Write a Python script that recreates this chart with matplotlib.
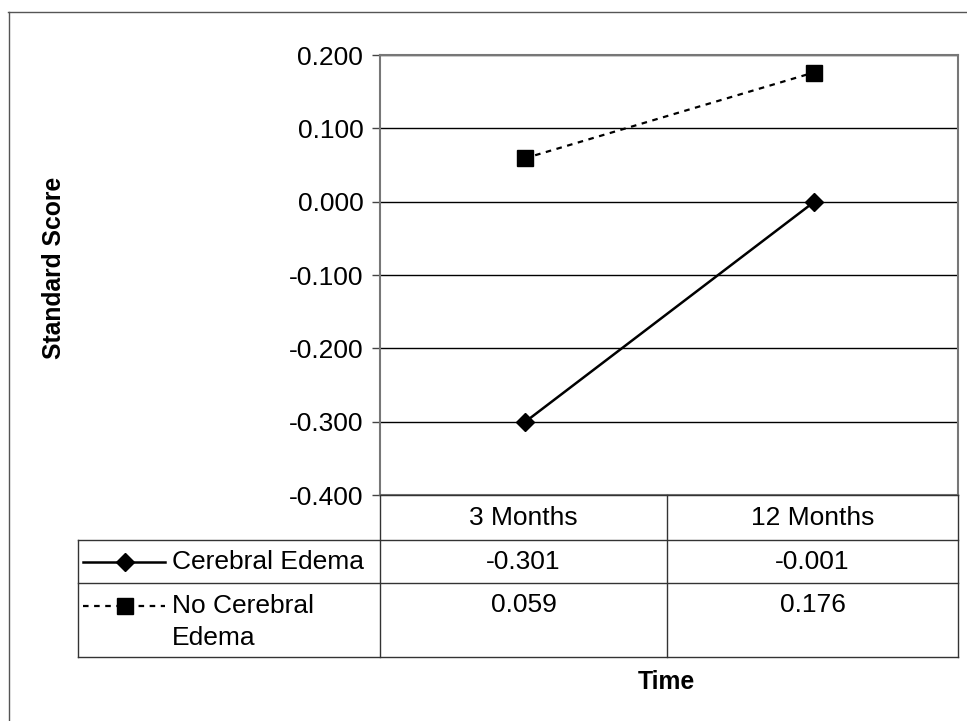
import numpy as np
import matplotlib.pyplot as plt
from matplotlib.lines import Line2D

plt.rcParams['font.family'] = ['Liberation Sans', 'DejaVu Sans']

categories = ['3 Months', '12 Months']
edema = [-0.301, -0.001]
no_edema = [0.059, 0.176]
series_names = ['Cerebral Edema', 'No Cerebral\nEdema']
y_ticks = [-0.4, -0.3, -0.2, -0.1, 0.0, 0.1, 0.2]

W, H = 967, 721
fig = plt.figure(figsize=(W / 100, H / 100), dpi=100)


def fx(x):
    return x / W


def fy(y):
    return 1 - y / H


def hline(x0, x1, y, **kw):
    fig.add_artist(Line2D([fx(x0), fx(x1)], [fy(y), fy(y)], transform=fig.transFigure, **kw))


def vline(x, y0, y1, **kw):
    fig.add_artist(Line2D([fx(x), fx(x)], [fy(y0), fy(y1)], transform=fig.transFigure, **kw))


# plot area in pixels
left, right, top, bottom = 380, 958, 55, 495
col_mid = 667
ax = fig.add_axes([fx(left), fy(bottom), fx(right) - fx(left), fy(top) - fy(bottom)])

x = np.arange(len(categories))
ax.plot(x, edema, color='black', lw=1.8, marker='D', ms=9, zorder=3)
ax.plot(x, no_edema, color='black', lw=1.6, ls=(0, (2.5, 2.5)), marker='s', ms=11.5, zorder=3)

ax.set_xlim(-0.5, len(categories) - 0.5)
ax.set_ylim(-0.4, 0.2)
ax.set_yticks(y_ticks)
ax.set_yticklabels([f'{v:.3f}' for v in y_ticks], fontsize=19)
ax.set_xticks([])
ax.tick_params(axis='y', length=6, width=1, color='#444444', pad=6)
ax.yaxis.grid(True, color='black', lw=1)
ax.set_axisbelow(True)
for s in ax.spines.values():
    s.set_color('#777777')
    s.set_linewidth(1.5)

fig.text(fx(54), fy(268), 'Standard Score', fontsize=17.8, fontweight='bold',
         rotation=90, ha='center', va='center')

# data table under the plot
tleft = 78
rows_y = [495, 540, 583, 657]
lc = '#333333'
hline(left, right, rows_y[0], color=lc, lw=1)
for yy in rows_y[1:]:
    hline(tleft, right, yy, color=lc, lw=1)
vline(tleft, rows_y[1], rows_y[3], color=lc, lw=1)
for xx in [left, col_mid, right]:
    vline(xx, rows_y[0], rows_y[3], color=lc, lw=1)

col_centers = [(left + col_mid) / 2, (col_mid + right) / 2]
for cx, cat in zip(col_centers, categories):
    fig.text(fx(cx), fy(518), cat, fontsize=19, ha='center', va='center')
for cx, v in zip(col_centers, edema):
    fig.text(fx(cx), fy(562), f'{v:.3f}', fontsize=19, ha='center', va='center')
for cx, v in zip(col_centers, no_edema):
    fig.text(fx(cx), fy(605), f'{v:.3f}', fontsize=19, ha='center', va='center')

# legend keys in the table
fig.add_artist(Line2D([fx(83), fx(165)], [fy(562), fy(562)], transform=fig.transFigure,
                      color='black', lw=1.8))
fig.add_artist(Line2D([fx(125)], [fy(562)], transform=fig.transFigure,
                      color='black', marker='D', ms=9))
fig.add_artist(Line2D([fx(83), fx(165)], [fy(606), fy(606)], transform=fig.transFigure,
                      color='black', lw=1.6, ls=(0, (2.5, 2.5))))
fig.add_artist(Line2D([fx(125)], [fy(606)], transform=fig.transFigure,
                      color='black', marker='s', ms=11.5))
fig.text(fx(172), fy(562), series_names[0], fontsize=19, ha='left', va='center')
fig.text(fx(172), fy(594), series_names[1], fontsize=19, ha='left', va='top', linespacing=1.4)

fig.text(fx(666), fy(682), 'Time', fontsize=17.8, fontweight='bold', ha='center', va='center')

# outer chart border
hline(8, W, 12, color='#555555', lw=1)
vline(9, 12, H, color='#555555', lw=1)

fig.savefig('out.png', dpi=100)
